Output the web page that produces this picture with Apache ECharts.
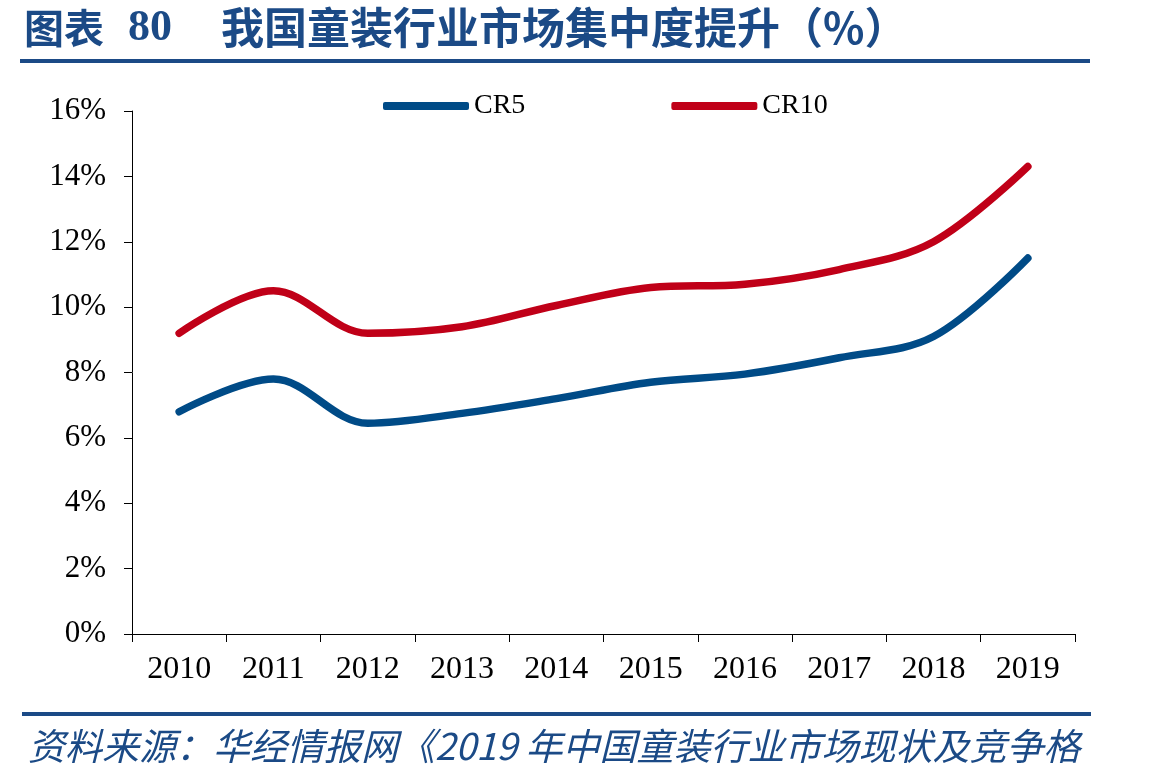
<!DOCTYPE html>
<html>
<head>
<meta charset="utf-8">
<script src="https://cdn.jsdelivr.net/npm/echarts@6/dist/echarts.min.js"></script>
<style>
html, body { margin: 0; padding: 0; background: #fff; }
#main { width: 1150px; height: 783px; }
</style>
</head>
<body>
<div id="main"></div>
<script>
//年份
var years = ['2010', '2011', '2012', '2013', '2014', '2015', '2016', '2017', '2018', '2019'];
//CR5 集中度(%)
var cr5 = [6.8, 7.8, 6.45, 6.75, 7.2, 7.7, 7.95, 8.45, 9.1, 11.5];
//CR10 集中度(%)
var cr10 = [9.2, 10.5, 9.2, 9.4, 10.05, 10.6, 10.7, 11.15, 12.0, 14.3];

var titleBlue = '#1B4A86';
var serif = '"Liberation Serif", "Times New Roman", serif';
var cjk = '"Noto Sans CJK SC", sans-serif';

var chart = echarts.init(document.getElementById('main'));

var option = {
	backgroundColor: '#fff',
	animation: false,
	grid: {
		left: 132,
		right: 75,
		top: 111,
		bottom: 149
	},
	legend: {
		left: 383,
		top: 92,
		padding: 0,
		itemWidth: 86,
		itemHeight: 8,
		itemGap: 146,
		icon: 'roundRect',
		textStyle: {
			fontFamily: serif,
			fontSize: 28,
			color: '#000'
		},
		data: ['CR5', 'CR10']
	},
	xAxis: {
		type: 'category',
		data: years,
		boundaryGap: true,
		axisLine: { lineStyle: { color: '#000', width: 1 } },
		axisTick: { show: true, length: 8, lineStyle: { color: '#000' } },
		axisLabel: {
			margin: 20,
			fontFamily: serif,
			fontSize: 32,
			color: '#000'
		}
	},
	yAxis: {
		type: 'value',
		min: 0,
		max: 16,
		interval: 2,
		axisLine: { show: true, lineStyle: { color: '#000', width: 1 } },
		axisTick: { show: true, length: 8, lineStyle: { color: '#000' } },
		splitLine: { show: false },
		axisLabel: {
			margin: 26,
			fontFamily: serif,
			fontSize: 31,
			color: '#000',
			formatter: '{value}%'
		}
	},
	series: [{
		name: 'CR5',
		type: 'line',
		data: cr5,
		smooth: 0.35,
		symbol: 'none',
		itemStyle: { color: '#004B87' },
		lineStyle: { color: '#004B87', width: 7.5, cap: 'round', join: 'round' }
	}, {
		name: 'CR10',
		type: 'line',
		data: cr10,
		smooth: 0.35,
		symbol: 'none',
		itemStyle: { color: '#C00018' },
		lineStyle: { color: '#C00018', width: 7.5, cap: 'round', join: 'round' }
	}],
	graphic: [{
		type: 'text',
		left: 24,
		top: 8,
		style: { text: '图表', font: 'bold 40px ' + cjk, fill: titleBlue }
	}, {
		type: 'text',
		left: 128,
		top: 7,
		style: { text: '80', font: 'bold 44px ' + serif, fill: titleBlue }
	}, {
		type: 'text',
		left: 221,
		top: 6,
		style: { text: '我国童装行业市场集中度提升（%）', font: 'bold 43px ' + cjk, fill: titleBlue }
	}, {
		type: 'rect',
		shape: { x: 20, y: 59, width: 1070, height: 4 },
		style: { fill: titleBlue }
	}, {
		type: 'rect',
		shape: { x: 22, y: 712, width: 1069, height: 4 },
		style: { fill: titleBlue }
	}, {
		type: 'text',
		left: 28,
		top: 727,
		style: {
			text: '资料来源：华经情报网《2019 年中国童装行业市场现状及竞争格',
			font: 'italic 37px ' + cjk,
			fill: titleBlue
		}
	}]
};

chart.setOption(option);
</script>
</body>
</html>
